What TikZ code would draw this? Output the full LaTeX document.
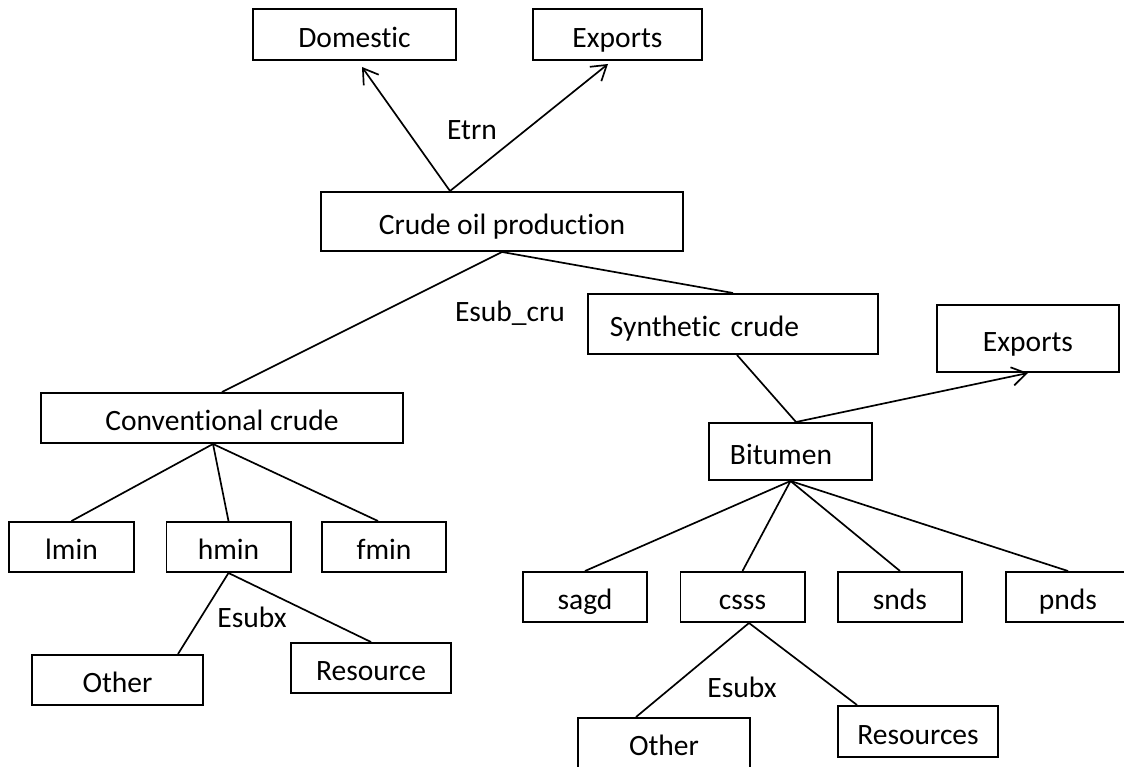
\documentclass[tikz,border=0pt]{standalone}
\usepackage{fontspec}
\setmainfont{Carlito}[Ligatures=NoCommon]
\usetikzlibrary{arrows.meta,calc}
\begin{document}
\begin{tikzpicture}[x=0.025cm, y=-0.025cm,
		box/.style={draw, line width=1.4pt, inner sep=0pt, minimum height=1.25cm, text height=20pt, text depth=2.2pt, font=\fontsize{21}{25}\selectfont},
		link/.style={line width=1.2pt},
		arr/.style={line width=1.2pt, -{Straight Barb[length=0.36cm,width=0.46cm]}},
		lbl/.style={font=\fontsize{21}{25}\selectfont}]
		\clip (0,0) rectangle (1124,767);
		% top level
		\node[box, minimum width=5.075cm, minimum height=1.275cm] (dom) at (354.5,34.5) {Domestic};
		\node[box, minimum width=4.225cm, minimum height=1.275cm] (expa) at (617.5,34.5) {Exports};
		\node[box, minimum width=9.05cm, minimum height=1.475cm] (cop) at (502,221.5) {Crude oil production};
		\node[lbl] (etrn) at (472,130) {Etrn};
		\draw[arr] ($(cop.north)+(-52,0)$) -- ($(dom.south)+(7.5,6)$);
		\draw[arr] ($(cop.north)+(-52,0)$) -- ($(expa.south)+(-9.5,3)$);
		% conventional side
		\node[box, minimum width=9.05cm] (cc) at (222,418) {Conventional crude};
		\node[box, minimum width=3.1cm] (lmin) at (71.5,547) {lmin};
		\node[box, minimum width=3.1cm] (hmin) at (228.5,547) {hmin};
		\node[box, minimum width=3.1cm] (fmin) at (384,547) {fmin};
		\node[box, minimum width=4.275cm] (otha) at (117.5,680) {Other};
		\node[box, minimum width=4cm] (resa) at (371,668) {Resource};
		\node[lbl] (esuba) at (252,617) {Esubx};
		\node[lbl] (esubcru) at (510,313) {Esub\_cru};
		\draw[link] (cop.south) -- (cc.north);
		\draw[link] ($(cc.south)+(-9,0)$) -- (lmin.north);
		\draw[link] ($(cc.south)+(-9,0)$) -- (hmin.north);
		\draw[link] ($(cc.south)+(-9,0)$) -- ($(fmin.north)+(-6,0)$);
		\draw[link] (hmin.south) -- ($(otha.north)+(60.5,0)$);
		\draw[link] (hmin.south) -- (resa.north);
		% synthetic side
		\node[box, minimum height=1.5cm, text width=6.15cm, inner xsep=0.55cm, align=left] (sc) at (733,324) {Synthetic crude};
		\node[box, minimum width=4.55cm, minimum height=1.675cm] (expb) at (1028,338.5) {Exports};
		\node[box, minimum height=1.425cm, text width=3.025cm, inner xsep=0.525cm, align=left] (bit) at (790.5,451.5) {Bitumen};
		\node[box, minimum width=3.1cm] (sagd) at (585,597) {sagd};
		\node[box, minimum width=3.1cm] (csss) at (742.5,597) {csss};
		\node[box, minimum width=3.1cm] (snds) at (900,597) {snds};
		\node[box, minimum width=3.1cm] (pnds) at (1068,597) {pnds};
		\node[box, minimum width=4.3cm] (othb) at (664,743) {Other};
		\node[box, minimum width=4cm, minimum height=1.275cm] (resb) at (918,731.5) {Resources};
		\node[lbl] (esubb) at (742,687) {Esubx};
		\draw[link] (cop.south) -- (sc.north);
		\draw[link] ($(sc.south)+(4,0)$) -- ($(bit.north)+(5.5,0)$);
		\draw[arr] ($(bit.north)+(5.5,0)$) -- (expb.south);
		\draw[link] (bit.south) -- (sagd.north);
		\draw[link] (bit.south) -- (csss.north);
		\draw[link] (bit.south) -- (snds.north);
		\draw[link] (bit.south) -- (pnds.north);
		\draw[link] ($(csss.south)+(6.5,0)$) -- ($(othb.north)+(-28,0)$);
		\draw[link] ($(csss.south)+(6.5,0)$) -- ($(resb.north)+(-61,0)$);
	\end{tikzpicture}
\end{document}
